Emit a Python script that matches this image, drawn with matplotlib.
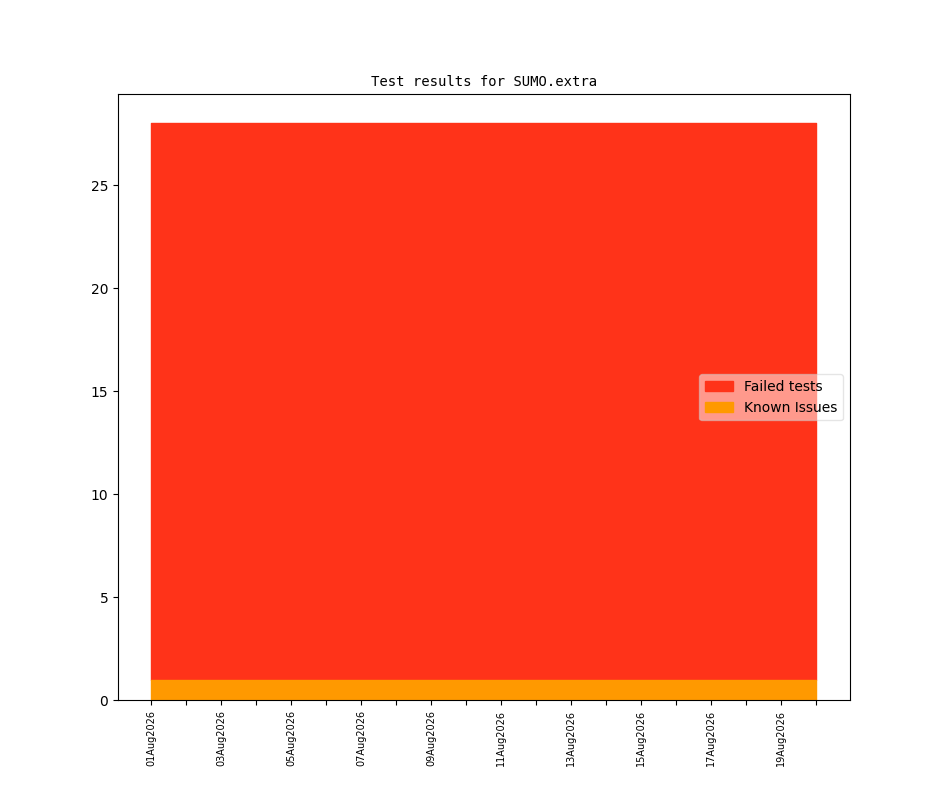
import matplotlib
matplotlib.use('Agg')
import matplotlib.pyplot as plt
import matplotlib.dates as mdates
import datetime

fechas = [datetime.date(2026, 8, d) for d in range(1, 21)]
known_issues = [1] * 20
failed_tests = [27] * 20

def main():
    fig, ax = plt.subplots(figsize=(9.44, 7.87), dpi=100)
    x = mdates.date2num(fechas)
    polys = ax.stackplot(x, known_issues, failed_tests,
                         colors=['#ff9900', '#ff3319'],
                         labels=['Known Issues', 'Failed tests'])
    for p in polys:
        p.set_edgecolor(p.get_facecolor())
        p.set_linewidth(1)
    # la capa de abajo encima para que su borde no quede tapado
    polys[0].set_zorder(2)
    handles, labels = ax.get_legend_handles_labels()
    ax.legend(handles[::-1], labels[::-1], loc='center right', framealpha=0.5)

    ax.set_xticks(x)
    ax.set_xticklabels([f.strftime('%d%b%Y') if i % 2 == 0 else '' for i, f in enumerate(fechas)],
                       rotation=90, fontsize=7)
    ax.set_title('Test results for SUMO.extra', fontsize=10, family='DejaVu Sans Mono')
    fig.savefig('out.png', dpi=100)

if __name__ == '__main__':
    main()
